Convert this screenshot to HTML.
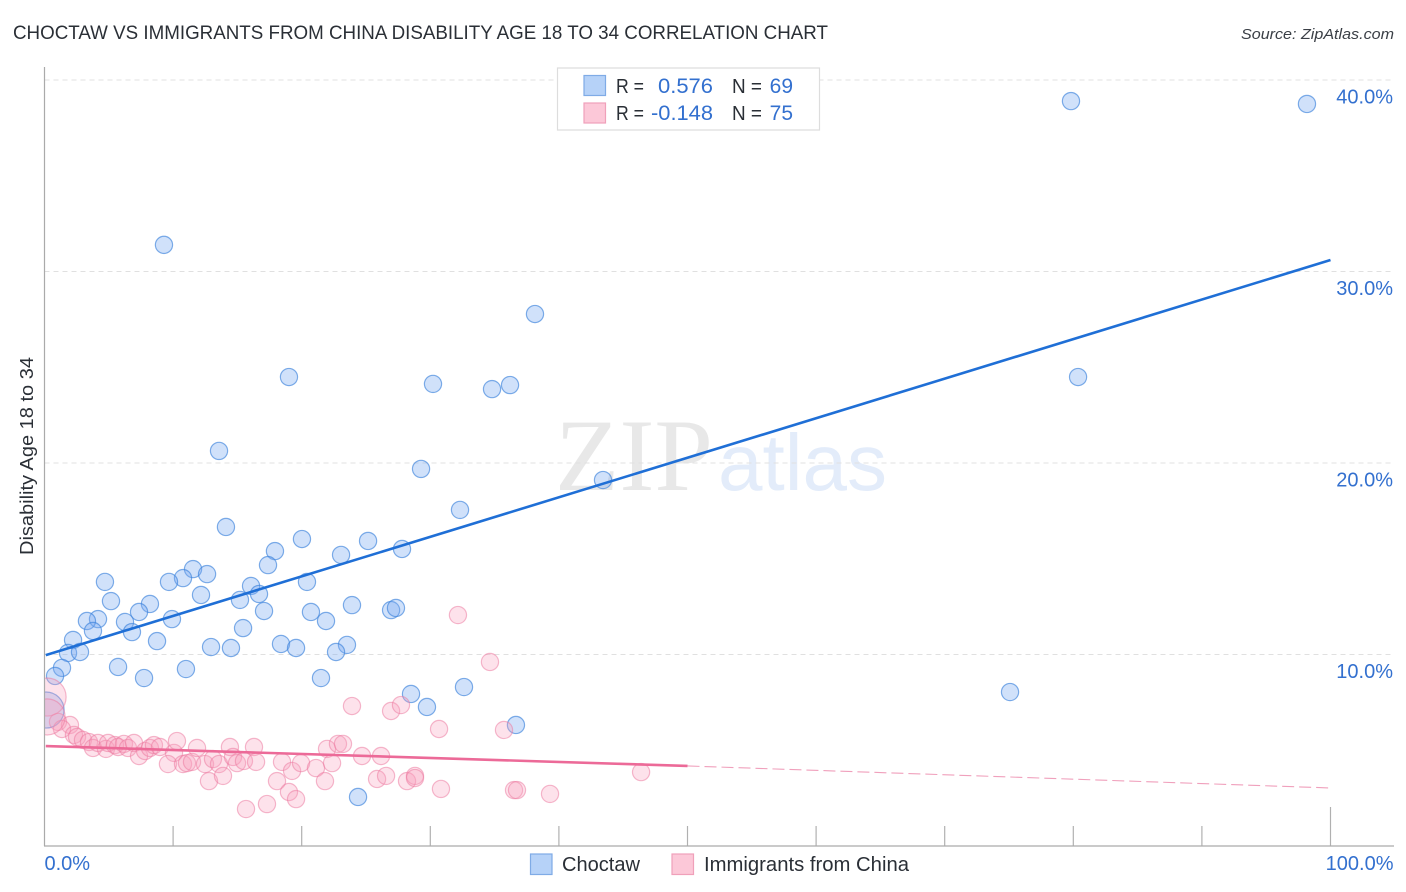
<!DOCTYPE html>
<html lang="en">
<head>
<meta charset="utf-8">
<title>Choctaw vs Immigrants from China Disability Age 18 to 34 Correlation Chart</title>
<style>
html,body{margin:0;padding:0;background:#fff;}
svg{display:block;font-family:"Liberation Sans",sans-serif;}
</style>
</head>
<body>
<svg id="chart" xmlns="http://www.w3.org/2000/svg" width="1406" height="892" viewBox="0 0 1406 892">
  <text x="13" y="39" font-size="19" fill="#2a2f36" textLength="815" lengthAdjust="spacingAndGlyphs">CHOCTAW VS IMMIGRANTS FROM CHINA DISABILITY AGE 18 TO 34 CORRELATION CHART</text>
  <text x="1241" y="39" font-size="15" font-style="italic" fill="#3a3f46" textLength="153" lengthAdjust="spacingAndGlyphs">Source: ZipAtlas.com</text>
  <g id="watermark">
    <text x="555" y="490" font-size="103" font-family="'Liberation Serif',serif" fill="#e8e8e8" textLength="158" lengthAdjust="spacingAndGlyphs">ZIP</text>
    <text x="718" y="490" font-size="80" font-family="'Liberation Sans',sans-serif" fill="#e3ecfa" textLength="169" lengthAdjust="spacingAndGlyphs">atlas</text>
  </g>
  <g id="grid"></g>
  <g id="xticks"></g>
  <g id="ylabels"></g>
  <g id="xlabels"></g>
  <g id="points-choctaw"></g>
  <g id="points-china"></g>
  <rect x="0" y="660" width="44.5" height="90" fill="#fff"/>
  <g id="axes">
    <line x1="44.5" y1="67" x2="44.5" y2="846" stroke="#aaa" stroke-width="1.2"/>
    <line x1="44" y1="846" x2="1394" y2="846" stroke="#aaa" stroke-width="1.2"/>
  </g>
  <text transform="translate(33,456) rotate(-90)" font-size="18" fill="#2a2f36" text-anchor="middle" textLength="198" lengthAdjust="spacingAndGlyphs">Disability Age 18 to 34</text>
  <g id="trends"></g>

  <g>
    <rect x="557.5" y="68" width="262" height="62" fill="#fff" stroke="#ddd" stroke-width="1.2"/>
    <rect x="584" y="75.5" width="21.5" height="20" fill="#b6d2f8" stroke="#7fabe6" stroke-width="1.2"/>
    <rect x="584" y="103" width="21.5" height="20" fill="#fcc8d8" stroke="#f0a0ba" stroke-width="1.2"/>
    <text x="616" y="93" font-size="20" fill="#2a2f36" textLength="28" lengthAdjust="spacingAndGlyphs">R =</text>
    <text x="658" y="93" font-size="21" fill="#3370cf" textLength="55" lengthAdjust="spacingAndGlyphs">0.576</text>
    <text x="732" y="93" font-size="20" fill="#2a2f36" textLength="30" lengthAdjust="spacingAndGlyphs">N =</text>
    <text x="793" y="93" font-size="21" fill="#3370cf" text-anchor="end">69</text>
    <text x="616" y="120" font-size="20" fill="#2a2f36" textLength="28" lengthAdjust="spacingAndGlyphs">R =</text>
    <text x="651" y="120" font-size="21" fill="#3370cf" textLength="62" lengthAdjust="spacingAndGlyphs">-0.148</text>
    <text x="732" y="120" font-size="20" fill="#2a2f36" textLength="30" lengthAdjust="spacingAndGlyphs">N =</text>
    <text x="793" y="120" font-size="21" fill="#3370cf" text-anchor="end">75</text>
  </g>

  <g>
    <rect x="530.5" y="854" width="21.5" height="20.5" fill="#b6d2f8" stroke="#7fabe6" stroke-width="1.2"/>
    <text x="562" y="871" font-size="20" fill="#2a2f36" textLength="78" lengthAdjust="spacingAndGlyphs">Choctaw</text>
    <rect x="672" y="854" width="21.5" height="20.5" fill="#fcc8d8" stroke="#f0a0ba" stroke-width="1.2"/>
    <text x="704" y="871" font-size="20" fill="#2a2f36" textLength="205" lengthAdjust="spacingAndGlyphs">Immigrants from China</text>
  </g>
</svg>
<script>
// Percent values
const yTickValues = [10, 20, 30, 40];
const yTickLabels = ['10.0%', '20.0%', '30.0%', '40.0%'];
const xTickValues = [10, 20, 30, 40, 50, 60, 70, 80, 90, 100];
const xEdgeValues = [0, 100];
const xEdgeLabels = ['0.0%', '100.0%'];

const choctawX = [9.29,79.82,98.17,38.14,19.01,30.21,34.80,36.20,80.37,13.57,29.28,43.43,32.31,14.11,20.02,25.16,17.92,27.80,23.06,17.38,11.55,12.64,10.77,9.68,4.70,20.41,16.06,12.17,16.68,15.20,5.17,8.20,23.91,26.95,27.33,7.35,17.07,20.72,4.16,3.30,9.91,6.26,21.89,15.44,3.77,6.80,2.22,8.75,12.95,14.50,18.39,19.56,23.52,22.67,1.83,2.76,1.36,5.72,11.00,0.82,7.74,21.50,32.62,28.50,75.08,29.74,36.66,24.38];
const choctawY = [31.39,38.90,38.75,27.78,24.49,24.13,23.86,24.07,24.49,20.63,19.69,19.11,17.55,16.66,16.03,15.93,15.40,15.51,15.20,14.67,14.46,14.20,13.99,13.79,13.79,13.79,13.58,13.11,13.16,12.85,12.79,12.64,12.58,12.32,12.43,12.22,12.27,12.22,11.85,11.75,11.85,11.70,11.75,11.38,11.23,11.17,10.76,10.70,10.39,10.34,10.55,10.34,10.50,10.13,10.08,10.13,9.30,9.35,9.24,8.88,8.77,8.77,8.30,7.94,8.04,7.26,6.32,2.56];
const choctawClusterX = [0.12];
const choctawClusterY = [7.10];
const choctawClusterSize = [4.4];

const chinaX = [1.05,1.98,1.36,2.29,2.53,2.99,3.46,3.77,4.16,4.78,4.94,5.48,5.72,6.18,6.49,6.96,7.35,7.82,8.20,8.51,8.98,10.07,10.30,9.60,10.77,11.08,11.47,11.86,12.48,12.79,13.10,13.57,13.88,14.42,14.66,14.97,15.51,16.29,16.45,15.67,17.30,18.47,18.08,19.01,19.56,19.25,19.95,21.11,21.81,21.97,22.36,22.82,23.21,32.15,34.64,23.91,26.95,27.72,30.68,35.73,24.69,26.17,25.86,26.56,28.19,28.81,28.81,30.83,36.51,36.74,39.31,46.39];
const chinaY = [6.48,6.32,6.11,5.80,5.69,5.54,5.43,5.12,5.38,5.07,5.38,5.27,5.17,5.33,5.12,5.38,4.70,4.96,5.12,5.27,5.17,4.86,5.48,4.28,4.28,4.33,4.39,5.12,4.28,3.39,4.54,4.28,3.66,5.17,4.65,4.33,4.44,5.17,4.39,1.93,2.19,4.39,3.39,2.82,2.45,3.92,4.33,4.07,3.39,5.07,4.33,5.33,5.33,12.06,9.61,7.31,7.05,7.36,6.11,6.06,4.70,4.70,3.50,3.66,3.39,3.66,3.55,2.98,2.92,2.92,2.72,3.86];
const chinaClusterX = [0.20,0.20];
const chinaClusterY = [7.78,6.74];
const chinaClusterSize = [4.9,4.4];

const choctawTrendX = [0.1, 100];
const choctawTrendY = [9.97, 30.6];
const chinaTrendX = [0.1, 50];
const chinaTrendY = [5.22, 4.18];
const chinaProjectionX = [50, 100];
const chinaProjectionY = [4.18, 3.03];

const NS = 'http://www.w3.org/2000/svg';
const xScale = v => 44.5 + v * 12.86;
const yScale = v => 846 - v * 19.15;
const rScale = s => 8.6 * Math.sqrt(s);

function make(tag, parentId, attrs) {
  const el = document.createElementNS(NS, tag);
  Object.keys(attrs).forEach(k => el.setAttribute(k, attrs[k]));
  document.getElementById(parentId).appendChild(el);
  return el;
}

yTickValues.forEach((v, i) => {
  const g = make('line', 'grid', {x1: 44.5, x2: 1394, y1: yScale(v), y2: yScale(v), stroke: '#e0e0e0', 'stroke-width': 1, 'stroke-dasharray': '5 4'});
  
  
  const t = make('text', 'ylabels', {x: 1393, y: yScale(v) + 23.5, 'font-size': 20, fill: '#3370cf', 'text-anchor': 'end'});
  t.textContent = yTickLabels[i];
  
  
});

xTickValues.forEach(v => {
  const top = v === 100 ? 807 : 826;
  const l = make('line', 'xticks', {x1: xScale(v), x2: xScale(v), y1: top, y2: 846, stroke: '#b0b0b0', 'stroke-width': 1.2});
  
  
});

xEdgeValues.forEach((v, i) => {
  const t = make('text', 'xlabels', {x: v === 0 ? 44.5 : 1393.5, y: 870, 'font-size': 20, fill: '#3370cf', 'text-anchor': v === 0 ? 'start' : 'end'});
  t.textContent = xEdgeLabels[i];
  
  
});

function dot(parentId, x, y, size, fill, stroke) {
  const c = make('circle', parentId, {cx: xScale(x), cy: yScale(y), r: rScale(size), fill: fill, stroke: stroke, 'stroke-width': 1.2});
  return c;
}
const blueFill = 'rgba(120,170,240,0.35)', blueStroke = 'rgba(60,130,220,0.65)';
const pinkFill = 'rgba(248,160,190,0.30)', pinkStroke = 'rgba(235,120,160,0.52)';

choctawX.forEach((x, i) => {
  const c = dot('points-choctaw', x, choctawY[i], 1, blueFill, blueStroke);
  
  
});
choctawClusterX.forEach((x, i) => {
  const c = dot('points-choctaw', x, choctawClusterY[i], choctawClusterSize[i], blueFill, blueStroke);
  
  
});
chinaX.forEach((x, i) => {
  const c = dot('points-china', x, chinaY[i], 1, pinkFill, pinkStroke);
  
  
});
chinaClusterX.forEach((x, i) => {
  const c = dot('points-china', x, chinaClusterY[i], chinaClusterSize[i], pinkFill, pinkStroke);
  
  
});

const trendBlue = make('line', 'trends', {x1: xScale(choctawTrendX[0]), y1: yScale(choctawTrendY[0]), x2: xScale(choctawTrendX[1]), y2: yScale(choctawTrendY[1]), stroke: '#1f6fd6', 'stroke-width': 2.6});


const trendPink = make('line', 'trends', {x1: xScale(chinaTrendX[0]), y1: yScale(chinaTrendY[0]), x2: xScale(chinaTrendX[1]), y2: yScale(chinaTrendY[1]), stroke: '#ec6a98', 'stroke-width': 2.6});


const projPink = make('line', 'trends', {x1: xScale(chinaProjectionX[0]), y1: yScale(chinaProjectionY[0]), x2: xScale(chinaProjectionX[1]), y2: yScale(chinaProjectionY[1]), stroke: '#f0a0bc', 'stroke-width': 1.1, 'stroke-dasharray': '12 5'});


</script>
</body>
</html>
